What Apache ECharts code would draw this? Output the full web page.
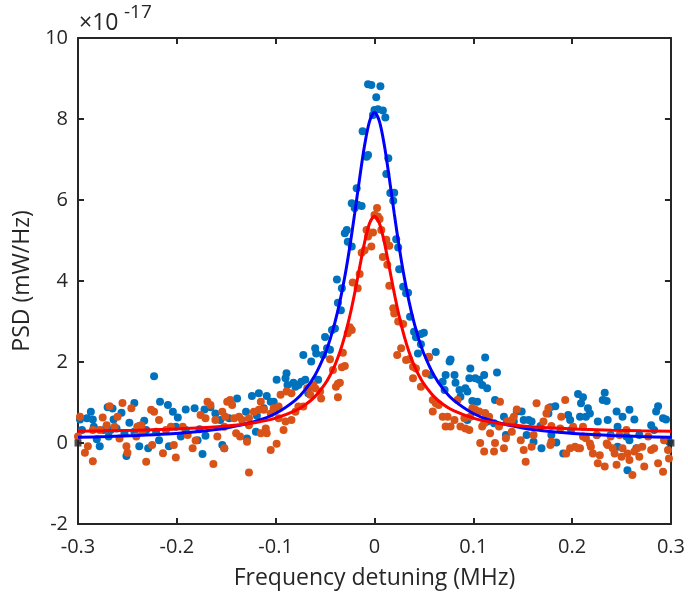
<!DOCTYPE html>
<html><head><meta charset="utf-8">
<script src="https://cdn.jsdelivr.net/npm/echarts@6/dist/echarts.min.js"></script>
<style>html,body{margin:0;padding:0;background:#fff}#c{width:688px;height:604px}</style>
</head><body><div id="c"></div>
<script>
// Measured scatter points (x in MHz, y in units of 1e-17 mW/Hz)
const bluePts = [
[-0.298,0.58],[-0.291,0.61],[-0.285,0.58],[-0.287,0.77],[-0.270,0.88],[-0.265,0.85],[-0.264,0.58],[-0.256,0.75],[-0.248,0.50],[-0.243,0.99],
[-0.238,0.42],[-0.233,0.55],[-0.223,1.65],[-0.217,1.02],[-0.209,0.94],[-0.204,0.77],[-0.199,0.63],[-0.191,0.83],[-0.182,0.86],[-0.172,0.83],
[-0.166,0.88],[-0.161,0.73],[-0.278,-0.08],[-0.251,-0.32],[-0.238,-0.08],[-0.229,-0.13],[-0.218,0.07],[-0.208,-0.08],[-0.196,0.16],[-0.179,0.07],
[-0.174,-0.27],[-0.171,0.18],[-0.284,0.40],[-0.274,0.32],[-0.267,0.32],[-0.261,0.36],[-0.243,0.28],[-0.231,0.32],[-0.221,0.28],[-0.191,0.32],
[-0.177,0.34],[-0.281,0.09],[-0.269,0.16],[-0.296,0.32],[-0.253,0.24],[-0.201,0.40],
[-0.156,0.57],[-0.154,-0.05],[-0.152,-0.13],[-0.147,0.61],[-0.139,1.10],[-0.130,0.77],[-0.129,0.11],[-0.124,1.16],[-0.117,1.23],[-0.119,0.67],
[-0.112,0.86],[-0.109,1.16],[-0.105,1.02],[-0.102,1.02],[-0.101,0.82],[-0.099,1.56],[-0.090,1.60],[-0.089,1.72],[-0.088,1.43],[-0.082,1.49],
[-0.080,1.39],[-0.077,1.43],[-0.074,1.51],[-0.072,2.17],[-0.070,1.56],[-0.067,1.23],[-0.064,2.01],[-0.062,1.39],[-0.060,2.34],[-0.059,2.21],
[-0.057,1.56],[-0.052,2.17],[-0.050,2.62],[-0.048,2.34],[-0.045,2.30],[-0.043,2.79],[-0.120,0.28],
[-0.0065,8.86],[-0.0032,8.84],[0.006,8.81],[0.0018,8.54],[0,8.22],[0.0035,8.24],[0.0085,8.21],[0.011,8.04],[-0.0015,8.10],[-0.012,7.70],
[-0.008,7.07],[-0.0065,7.11],[0.014,7.03],[0.012,6.64],[-0.018,6.29],[-0.023,5.92],[-0.017,5.88],[-0.013,5.85],[-0.020,5.80],[0.016,6.17],
[0.020,6.18],[0.019,5.98],[-0.028,5.26],[-0.030,5.18],[-0.027,4.97],[-0.023,4.85],[0.022,5.03],[0.024,4.83],
[-0.038,4.04],[-0.033,3.82],[-0.037,3.46],[-0.034,3.28],[-0.040,2.83],[0.025,4.29],[0.029,3.86],[0.034,3.71],[0.032,3.70],[0.036,3.12],
[0.040,2.75],[0.042,2.61],[0.047,2.44],
[0.047,2.69],[0.050,2.72],[0.044,2.21],[0.055,2.11],[0.062,2.25],[0.057,1.68],[0.072,1.68],[0.076,2.01],[0.077,2.06],[0.081,1.68],
[0.069,1.51],[0.071,1.31],[0.082,1.49],[0.086,1.31],[0.087,1.14],[0.092,1.35],[0.094,1.27],[0.096,1.60],[0.097,1.84],[0.102,1.60],
[0.106,1.56],[0.109,1.43],[0.111,1.68],[0.114,1.35],[0.112,2.11],[0.124,1.74],[0.099,1.04],[0.104,1.02],[0.122,1.06],[0.131,0.65],
[0.144,0.78],[0.149,0.78],[0.141,0.53],[0.151,0.57],[0.156,0.57],[0.159,0.53],[0.154,0.20],[0.161,0.03],[0.133,0.20],[0.121,0.49],
[0.114,0.53],[0.094,0.57],
[0.168,0.42],[0.169,-0.13],[0.178,0.88],[0.183,0.91],[0.176,0.73],[0.179,0.20],[0.184,0.01],[0.191,-0.26],[0.196,0.69],[0.198,0.57],
[0.199,0.32],[0.206,1.21],[0.211,1.13],[0.209,0.98],[0.208,0.65],[0.214,0.65],[0.216,0.86],[0.218,0.73],[0.226,0.53],[0.231,1.06],
[0.233,1.24],[0.235,1.04],[0.236,0.57],[0.245,0.78],[0.246,0.40],[0.251,0.65],[0.258,0.82],[0.263,0.58],[0.255,0.16],[0.258,0.07],
[0.265,-0.13],[0.256,-0.67],[0.268,0.20],[0.280,0.44],[0.283,0.32],[0.285,0.78],[0.287,0.91],[0.292,0.61],[0.295,0.58],[0.298,0.03],
[0.225,0.20],[0.239,0.20],[0.246,-0.09]
];
const orangePts = [
[-0.298,0.65],[-0.300,0.16],[-0.293,-0.24],[-0.290,-0.08],[-0.285,-0.45],[-0.278,0.32],[-0.275,0.63],[-0.271,0.44],[-0.268,0.91],[-0.263,0.40],
[-0.260,0.65],[-0.255,0.99],[-0.251,-0.08],[-0.250,-0.24],[-0.246,0.86],[-0.240,0.40],[-0.236,0.44],[-0.235,0.28],[-0.231,-0.46],[-0.226,0.82],
[-0.223,0.77],[-0.218,0.57],[-0.214,-0.25],[-0.211,0.32],[-0.206,0.40],[-0.203,-0.05],[-0.201,-0.36],[-0.194,0.40],[-0.189,0.20],[-0.184,-0.13],
[-0.181,0.06],[-0.176,0.69],[-0.171,0.61],[-0.169,1.02],[-0.166,0.94],[-0.163,-0.52],[-0.161,0.57],[-0.159,0.16],[-0.285,0.32],[-0.258,0.11],
[-0.241,0.16],[-0.225,-0.05],
[-0.154,0.77],[-0.149,1.02],[-0.146,1.06],[-0.144,0.94],[-0.151,0.65],[-0.142,0.61],[-0.137,0.65],[-0.134,0.57],[-0.127,0.61],[-0.122,0.77],
[-0.117,0.82],[-0.115,1.02],[-0.112,0.82],[-0.105,0.73],[-0.102,0.86],[-0.097,0.90],[-0.095,1.19],[-0.089,1.27],[-0.084,1.23],[-0.080,0.77],
[-0.077,0.90],[-0.072,0.90],[-0.068,1.35],[-0.065,1.19],[-0.062,1.43],[-0.060,1.35],[-0.054,1.10],[-0.055,1.27],[-0.152,-0.13],[-0.140,0.24],
[-0.136,0.16],[-0.129,0.03],[-0.115,0.24],[-0.109,0.24],[-0.110,0.36],[-0.092,0.32],[-0.105,-0.17],[-0.099,-0.02],[-0.127,-0.73],[-0.152,0.40],
[-0.127,0.44],[-0.097,0.61],[-0.090,0.53],[-0.084,0.57],
[0.0026,5.80],[0,5.63],[0.0035,5.59],[0.0052,5.53],[-0.008,5.26],[-0.0015,5.20],[0.0069,5.26],[-0.0065,5.10],[0.012,5.02],[0.015,4.87],
[-0.0032,4.85],[-0.013,4.70],[0.0085,4.59],[-0.010,4.76],
[-0.015,4.17],[-0.022,3.96],[-0.017,3.82],[-0.025,2.86],[-0.023,2.79],[-0.027,2.71],[-0.032,2.23],[-0.045,2.07],[-0.042,1.80],[-0.030,1.90],
[-0.033,1.87],[-0.037,1.46],[-0.035,1.49],[-0.039,1.39],[-0.037,1.13],[0.013,4.40],[0.015,3.88],[0.019,3.33],[0.020,3.20],[0.024,3.00],
[0.029,2.94],[0.027,2.34],[0.023,2.17],[0.032,2.05],[0.035,2.07],[0.039,1.88],[0.042,1.84],[0.039,1.60],
[0.047,1.39],[0.052,1.72],[0.055,2.13],[0.059,1.06],[0.062,0.98],[0.065,0.94],[0.059,0.78],[0.069,0.65],[0.074,0.65],[0.072,0.41],
[0.077,0.41],[0.081,0.57],[0.084,1.06],[0.087,0.41],[0.091,0.61],[0.092,0.36],[0.096,0.32],[0.099,0.86],[0.102,0.82],[0.106,0.78],
[0.109,0.41],[0.112,0.74],[0.116,0.65],[0.117,0.24],[0.122,0.00],[0.126,0.41],[0.127,1.02],[0.133,0.12],[0.134,0.53],[0.139,0.57],
[0.141,0.65],[0.144,0.83],[0.139,0.28],[0.148,0.07],[0.151,-0.17],[0.153,-0.46],[0.159,-0.09],[0.161,0.20],[0.097,0.65],[0.107,0.00],
[0.111,-0.21],[0.121,-0.21],[0.131,-0.13],[0.111,0.49],
[0.164,0.98],[0.171,0.53],[0.174,0.73],[0.176,0.86],[0.179,0.42],[0.178,-0.05],[0.179,0.03],[0.188,0.36],[0.189,0.65],[0.193,1.06],
[0.194,-0.26],[0.198,-0.13],[0.201,0.40],[0.203,-0.09],[0.206,-0.13],[0.208,-0.13],[0.211,0.40],[0.214,0.12],[0.218,-0.01],[0.219,-0.09],
[0.221,-0.26],[0.226,-0.50],[0.228,-0.30],[0.233,-0.58],[0.235,-0.01],[0.236,-0.05],[0.241,-0.13],[0.243,-0.26],[0.245,-0.54],[0.250,-0.34],
[0.251,-0.13],[0.255,0.32],[0.256,-0.26],[0.258,-0.42],[0.261,-0.79],[0.263,-0.21],[0.266,-0.13],[0.268,-0.34],[0.271,-0.09],[0.273,-0.58],
[0.277,0.16],[0.280,-0.17],[0.283,-0.13],[0.287,-0.50],[0.292,-0.71],[0.293,0.07],[0.297,-0.17],[0.298,-0.38],[0.225,0.20],[0.239,0.16],
[0.211,0.16],[0.248,0.20]
];
// Fitted curves
const fitX = [-0.3,-0.27,-0.24,-0.21,-0.18,-0.15,-0.12,-0.1,-0.08,-0.07,-0.06,-0.05,-0.045,-0.04,-0.035,-0.03,-0.025,-0.02,-0.015,-0.01,-0.005,0,
0.005,0.01,0.015,0.02,0.025,0.03,0.035,0.04,0.045,0.05,0.06,0.07,0.08,0.1,0.12,0.15,0.18,0.21,0.24,0.27,0.3];
const blueFit = [0.14,0.159,0.185,0.222,0.279,0.372,0.536,0.729,1.059,1.317,1.68,2.204,2.552,2.976,3.491,4.11,4.841,5.669,6.54,7.35,7.941,8.16,
7.941,7.35,6.54,5.669,4.841,4.11,3.491,2.976,2.552,2.204,1.68,1.317,1.059,0.729,0.536,0.372,0.279,0.222,0.185,0.159,0.14];
const redFit = [0.293,0.303,0.317,0.337,0.368,0.418,0.508,0.613,0.797,0.943,1.151,1.458,1.666,1.924,2.246,2.644,3.131,3.704,4.337,4.955,5.423,5.6,
5.423,4.955,4.337,3.704,3.131,2.644,2.246,1.924,1.666,1.458,1.151,0.943,0.797,0.613,0.508,0.418,0.368,0.337,0.317,0.303,0.293];
const edgeMarks = [[-0.3,0],[0.3,0]];
const xRange = [-0.3, 0.3, 0.1];
const yRange = [-2, 10, 2];

const chart = echarts.init(document.getElementById('c'), null, {renderer: 'canvas'});
const FONT = '"Open Sans", "Noto Sans", sans-serif';
const AX = '#262626';
const line = {show: true, onZero: false, lineStyle: {color: AX, width: 2}};
const tick = {show: true, inside: true, length: 6, lineStyle: {color: AX, width: 2}};
const xBase = {type: 'value', min: xRange[0], max: xRange[1], interval: xRange[2], splitLine: {show: false}, axisLine: line, axisTick: tick};
const yBase = {type: 'value', min: yRange[0], max: yRange[1], interval: yRange[2], splitLine: {show: false}, axisLine: line, axisTick: tick};
const fitPairs = (ys) => fitX.map((x, i) => [x, ys[i]]);

chart.setOption({
  animation: false,
  backgroundColor: '#ffffff',
  grid: {left: 78, right: 13, top: 38, bottom: 80},
  xAxis: [
    Object.assign({}, xBase, {position: 'bottom',
      axisLabel: {fontSize: 20, color: AX, fontFamily: FONT, margin: 13,
        formatter: v => { const r = Math.round(v * 10) / 10; return r === 0 ? '0' : r.toFixed(1); }},
      name: 'Frequency detuning (MHz)', nameLocation: 'middle', nameGap: 43,
      nameTextStyle: {fontSize: 23, color: AX, fontFamily: FONT}}),
    Object.assign({}, xBase, {position: 'top', axisLabel: {show: false}})
  ],
  yAxis: [
    Object.assign({}, yBase, {position: 'left',
      axisLabel: {fontSize: 20, color: AX, fontFamily: FONT, margin: 10, formatter: v => String(Math.round(v))},
      name: 'PSD (mW/Hz)', nameLocation: 'middle', nameGap: 39,
      nameTextStyle: {fontSize: 23, color: AX, fontFamily: FONT}}),
    Object.assign({}, yBase, {position: 'right', axisLabel: {show: false}})
  ],
  graphic: [
    {type: 'text', left: 79, top: 12, style: {text: '\u00d710', fontSize: 23, fontFamily: FONT, fill: AX}},
    {type: 'text', left: 124, top: 3, style: {text: '-17', fontSize: 19, fontFamily: FONT, fill: AX}}
  ],
  series: [
    {type: 'scatter', name: 'blue', data: bluePts, symbol: 'circle', symbolSize: 8,
      itemStyle: {color: '#0072BD', opacity: 1}, xAxisIndex: 0, yAxisIndex: 0, z: 2},
    {type: 'scatter', name: 'orange', data: orangePts, symbol: 'circle', symbolSize: 8,
      itemStyle: {color: '#D95319', opacity: 1}, xAxisIndex: 0, yAxisIndex: 0, z: 3},
    {type: 'line', name: 'blueFit', data: fitPairs(blueFit), showSymbol: false, smooth: 0.3,
      lineStyle: {color: '#0000FF', width: 3}, xAxisIndex: 0, yAxisIndex: 0, z: 4},
    {type: 'line', name: 'redFit', data: fitPairs(redFit), showSymbol: false, smooth: 0.3,
      lineStyle: {color: '#FF0000', width: 3}, xAxisIndex: 0, yAxisIndex: 0, z: 5},
    {type: 'scatter', name: 'edge', data: edgeMarks, symbol: 'rect', symbolSize: 7,
      itemStyle: {color: AX}, xAxisIndex: 0, yAxisIndex: 0, z: 6}
  ]
});
</script>
</body></html>
